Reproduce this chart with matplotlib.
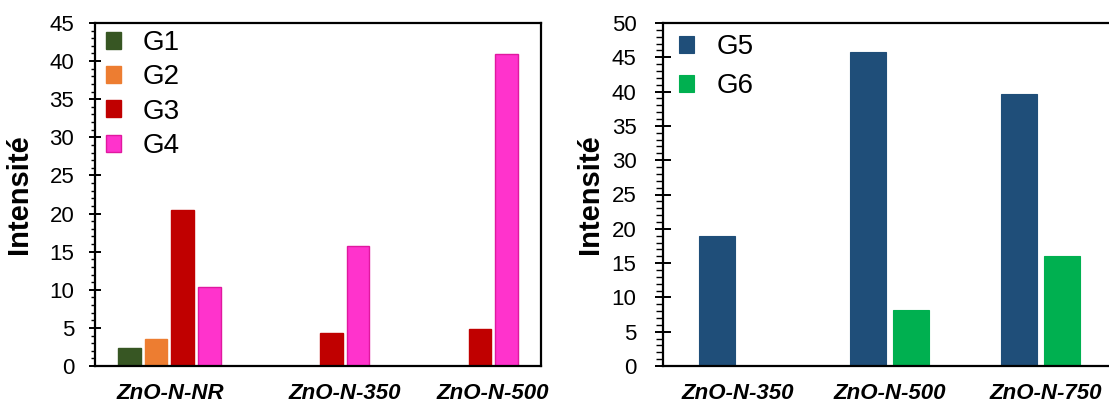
import matplotlib
matplotlib.use("Agg")
import matplotlib.pyplot as plt
from matplotlib.ticker import MultipleLocator

plt.rcParams['font.family'] = ['Liberation Sans', 'DejaVu Sans']

# ---- data ----
left_categories = ["ZnO-N-NR", "ZnO-N-350", "ZnO-N-500"]
left_series = ["G1", "G2", "G3", "G4"]
G1 = [2.4, 0, 0]
G2 = [3.6, 0, 0]
G3 = [20.5, 4.3, 4.8]
G4 = [10.3, 15.8, 40.9]

right_categories = ["ZnO-N-350", "ZnO-N-500", "ZnO-N-750"]
right_series = ["G5", "G6"]
G5 = [18.9, 45.8, 39.7]
G6 = [0, 8.1, 16.1]

left_yticks = list(range(0, 46, 5))
right_yticks = list(range(0, 51, 5))

# ---- layout / style ----
W, H = 1109, 403
fig = plt.figure(figsize=(W / 100, H / 100), dpi=100)

group_pos = [0.5, 1.5, 2.5]               # bar group centres
left_label_pos = [0.504, 1.682, 2.677]    # category label positions
right_label_pos = [0.497, 1.503, 2.536]

colors_l = ["#375623", "#ED7D31", "#C00000", "#FF33CC"]
edges_l = ["#375623", "#ED7D31", "#C00000", "#E0189F"]
colors_r = ["#1F4E79", "#00B050"]


def style_axes(ax, yticks, major_len, minor_len, pad):
    for s in ax.spines.values():
        s.set_linewidth(1.6)
    ax.set_yticks(yticks)
    ax.yaxis.set_minor_locator(MultipleLocator(1))
    ax.tick_params(axis='y', which='major', direction='inout',
                   length=major_len, width=1.4, labelsize=16, pad=pad)
    ax.tick_params(axis='y', which='minor', direction='out',
                   length=minor_len, width=1.0)
    ax.tick_params(axis='x', which='both', length=0, pad=12)
    ax.set_ylabel("Intensité", fontsize=21, fontweight='bold')
    for lab in ax.get_xticklabels():
        lab.set_fontweight('bold')
        lab.set_fontstyle('italic')
        lab.set_fontsize(16)


# Left axes
ax1 = fig.add_axes([95 / W, 37 / H, 446 / W, 343 / H])
bw_l = 0.153
step_l = 0.1796
data_l = [G1, G2, G3, G4]
for i, (name, vals) in enumerate(zip(left_series, data_l)):
    off = (i - 1.5) * step_l
    xs = [p + off for p in group_pos]
    ax1.bar(xs, vals, width=bw_l, color=colors_l[i], edgecolor=edges_l[i],
            linewidth=1.0, label=name)
ax1.set_xlim(0, 3)
ax1.set_ylim(0, 45)
ax1.set_xticks(left_label_pos)
ax1.set_xticklabels(left_categories)
style_axes(ax1, left_yticks, 8, 3, 11)
ax1.yaxis.set_label_coords(-0.139, 0.5)
ax1.legend(loc='upper left', frameon=False, fontsize=20,
           handlelength=0.55, handleheight=0.55, handletextpad=0.75,
           labelspacing=0.3, borderaxespad=0.0, bbox_to_anchor=(0.0, 1.012))

# Right axes
ax2 = fig.add_axes([663 / W, 37 / H, 453 / W, 343 / H])
bw_r = 0.238
step_r = 0.285
data_r = [G5, G6]
for i, (name, vals) in enumerate(zip(right_series, data_r)):
    off = (i - 0.5) * step_r
    xs = [p + off for p in group_pos]
    ax2.bar(xs, vals, width=bw_r, color=colors_r[i], edgecolor=colors_r[i],
            linewidth=0.8, label=name)
ax2.set_xlim(0, 3)
ax2.set_ylim(0, 50)
ax2.set_xticks(right_label_pos)
ax2.set_xticklabels(right_categories)
style_axes(ax2, right_yticks, 12, 5, 13)
ax2.spines['right'].set_visible(False)
ax2.yaxis.set_label_coords(-0.130, 0.5)
ax2.legend(loc='upper left', frameon=False, fontsize=20,
           handlelength=0.55, handleheight=0.55, handletextpad=0.8,
           labelspacing=0.47, borderaxespad=0.0, bbox_to_anchor=(0.01, 1.0))

fig.savefig("out.png", dpi=100)
